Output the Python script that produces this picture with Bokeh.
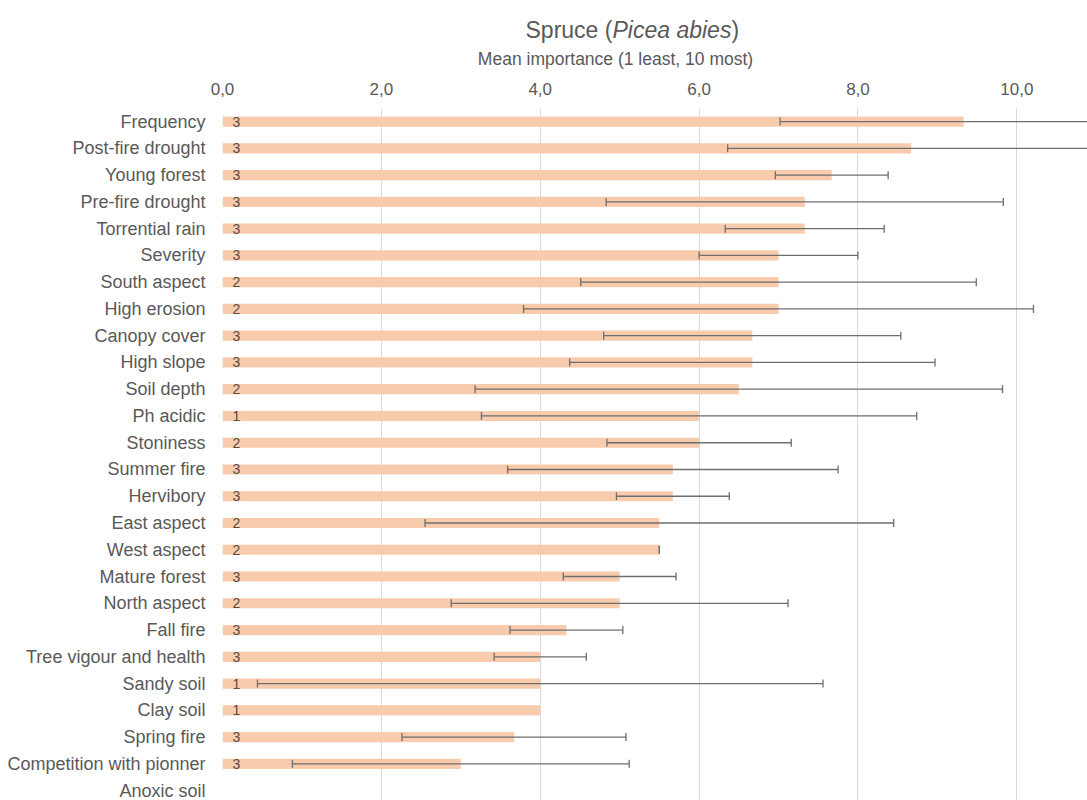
from bokeh.plotting import figure
from bokeh.layouts import column
from bokeh.models import (ColumnDataSource, Range1d, FixedTicker, Whisker,
                          TeeHead)
from bokeh.core.properties import value
from bokeh.embed import file_html
from bokeh.resources import INLINE

# Factors ranked by mean importance for spruce
factors = [
    "Frequency", "Post-fire drought", "Young forest", "Pre-fire drought",
    "Torrential rain", "Severity", "South aspect", "High erosion",
    "Canopy cover", "High slope", "Soil depth", "Ph acidic", "Stoniness",
    "Summer fire", "Hervibory", "East aspect", "West aspect",
    "Mature forest", "North aspect", "Fall fire", "Tree vigour and health",
    "Sandy soil", "Clay soil", "Spring fire", "Competition with pionner",
    "Anoxic soil",
]
mean_importance = [
    9.33, 8.67, 7.67, 7.33, 7.33, 7.0, 7.0, 7.0, 6.67, 6.67, 6.5, 6.0, 6.0,
    5.67, 5.67, 5.5, 5.5, 5.0, 5.0, 4.33, 4.0, 4.0, 4.0, 3.67, 3.0, None,
]
error = [
    2.31, 2.31, 0.71, 2.5, 1.0, 1.0, 2.49, 3.21, 1.87, 2.3, 3.32, 2.74, 1.16,
    2.08, 0.71, 2.95, 0.0, 0.71, 2.12, 0.71, 0.58, 3.56, None, 1.41, 2.12,
    None,
]
responses = [3, 3, 3, 3, 3, 3, 2, 2, 3, 3, 2, 1, 2, 3, 3, 2, 2, 3, 2, 3, 3,
             1, 1, 3, 3, None]
x_ticks = [0, 2, 4, 6, 8, 10]
x_tick_labels = ["0,0", "2,0", "4,0", "6,0", "8,0", "10,0"]

FONT = "Liberation Sans"
TEXT = "#595959"
ERR = "#6E6E6E"

W = 1087
HEAD_H = 70          # band holding the title and subtitle
MAIN_H = 730
LEFT, TOP = 222, 38
X_MAX = 10.89
Y_TOP, Y_BOTTOM = -0.49, 25.37

bars = ColumnDataSource(dict(
    y=[i for i, m in enumerate(mean_importance) if m is not None],
    mean=[m for m in mean_importance if m is not None],
    n=[str(c) for c, m in zip(responses, mean_importance) if m is not None],
))
errs = ColumnDataSource(dict(
    y=[i for i, e in enumerate(error) if e is not None],
    lo=[mean_importance[i] - e for i, e in enumerate(error) if e is not None],
    hi=[mean_importance[i] + e for i, e in enumerate(error) if e is not None],
))

# ---- title band (frame is aligned with the chart frame: LEFT..W) -------
head = figure(width=W, height=HEAD_H, output_backend="svg",
              toolbar_location=None, x_range=Range1d(LEFT, W),
              y_range=Range1d(HEAD_H, 0), min_border=0,
              outline_line_color=None, border_fill_color="white")
head.axis.visible = False
head.grid.visible = False

title_parts = ["Spruce (", "Picea abies", ")"]
title_styles = ["normal", "italic", "normal"]
title_x = [525, 612, 731]
for txt, style, tx in zip(title_parts, title_styles, title_x):
    head.text(x=[tx], y=[29], text=[txt], text_font=value(FONT),
              text_font_size="23px", text_font_style=style,
              text_color=TEXT, text_align="left",
              text_baseline="alphabetic")
head.text(x=[615], y=[58], text=["Mean importance (1 least, 10 most)"],
          text_font=value(FONT), text_font_size="17.5px", text_color=TEXT,
          text_align="center", text_baseline="alphabetic")

# ---- bar chart --------------------------------------------------------
p = figure(width=W, height=MAIN_H, output_backend="svg",
           toolbar_location=None,
           x_range=Range1d(0, X_MAX), y_range=Range1d(Y_BOTTOM, Y_TOP),
           x_axis_location="above", min_border_left=LEFT, min_border_right=0,
           min_border_top=TOP, min_border_bottom=0, outline_line_color=None,
           background_fill_color="white", border_fill_color="white")

p.hbar(y="y", right="mean", left=0, height=0.38, source=bars,
       fill_color="#F8CBAD", line_color=None)

p.add_layout(Whisker(base="y", lower="lo", upper="hi", dimension="width",
                     source=errs, level="overlay", line_color=ERR,
                     line_width=1.3,
                     lower_head=TeeHead(size=8, line_color=ERR,
                                        line_width=1.3),
                     upper_head=TeeHead(size=8, line_color=ERR,
                                        line_width=1.3)))

p.text(x=0, y="y", text="n", source=bars, x_offset=10,
       text_font=value(FONT), text_font_size="14px",
       text_color="#5A4A40", text_align="left", text_baseline="middle")

# top value axis
xa = p.xaxis[0]
xa.ticker = FixedTicker(ticks=x_ticks)
xa.major_label_overrides = dict(zip(x_ticks, x_tick_labels))
xa.axis_line_color = None
xa.major_tick_line_color = None
xa.minor_tick_line_color = None
xa.major_label_standoff = 8
xa.major_label_text_font = FONT
xa.major_label_text_font_size = "17px"
xa.major_label_text_color = TEXT

# factor names on the left
ya = p.yaxis[0]
ya.ticker = FixedTicker(ticks=list(range(len(factors))))
ya.major_label_overrides = {i: f for i, f in enumerate(factors)}
ya.axis_line_color = None
ya.major_tick_line_color = None
ya.minor_tick_line_color = None
ya.major_label_standoff = 11
ya.major_label_text_font = FONT
ya.major_label_text_font_size = "18px"
ya.major_label_text_color = TEXT

p.xgrid.grid_line_color = "#D9D9D9"
p.xgrid.grid_line_width = 1
p.ygrid.grid_line_color = None

layout = column(head, p, spacing=0)
open("out.html", "w").write(file_html(layout, INLINE))
